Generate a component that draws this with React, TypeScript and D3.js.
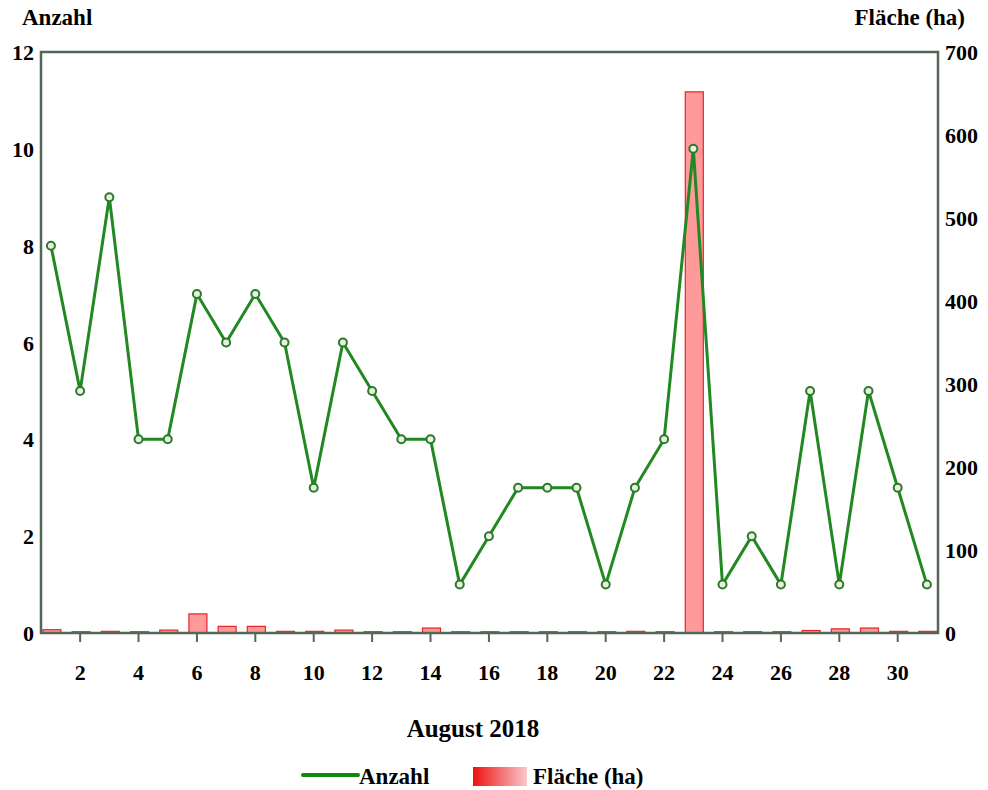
import React from 'react';
import * as d3 from 'd3';

const days = d3.range(1, 32);
const anzahl = [8, 5, 9, 4, 4, 7, 6, 7, 6, 3, 6, 5, 4, 4, 1, 2, 3, 3, 3, 1, 3, 4, 10, 1, 2, 1, 5, 1, 5, 3, 1];
const flaeche = [4, 1.5, 2, 1.5, 3.5, 23, 8, 8, 2, 2, 3.5, 1.5, 1.5, 6, 1.5, 1.5, 1.5, 1.5, 1.5, 1.5, 2, 1.5, 652, 1.5, 1.5, 1.5, 3, 5, 6, 2, 2];
const leftTicks = [0, 2, 4, 6, 8, 10, 12];
const rightTicks = [0, 100, 200, 300, 400, 500, 600, 700];
const xTicks = d3.range(2, 31, 2);

const W = 988, H = 790;
const L = 41, R = 938, T = 52, B = 633;
const font = '"Liberation Serif", "Times New Roman", serif';

export default function App() {
  const x = d3.scaleLinear().domain([0.66, 31.38]).range([L, R]);
  const yL = d3.scaleLinear().domain([0, 12]).range([B, T]);
  const yR = d3.scaleLinear().domain([0, 700]).range([B, T]);
  const line = d3.line<number>().x((_, i) => x(days[i])).y(d => yL(d));
  const bw = 18;

  return (
    <svg width={W} height={H} style={{ position: 'absolute', left: 0, top: 0, background: '#fff' }}
      fontFamily={font} fontWeight="bold">
      <defs>
        <linearGradient id="lg" x1="0" x2="1" y1="0" y2="0">
          <stop offset="0%" stopColor="#ee1111" />
          <stop offset="100%" stopColor="#f8c8cc" />
        </linearGradient>
      </defs>
      {/* bars */}
      {flaeche.map((v, i) => (
        <rect key={i} x={x(days[i]) - bw / 2 + 1} y={yR(v)} width={bw} height={B - yR(v)}
          fill="#f88" fillOpacity={0.85} stroke="#ee2222" strokeWidth={1.2} />
      ))}
      {/* frame */}
      <rect x={L} y={T} width={R - L} height={B - T} fill="none" stroke="#566656" strokeWidth={2.5} />
      {/* x ticks */}
      {xTicks.map(t => (
        <g key={t}>
          <line x1={x(t)} x2={x(t)} y1={B} y2={B + 9} stroke="#566656" strokeWidth={2} />
          <text x={x(t)} y={680} textAnchor="middle" fontSize={22}>{t}</text>
        </g>
      ))}
      {leftTicks.map(t => (
        <text key={t} x={34} y={yL(t) + 8} textAnchor="end" fontSize={22}>{t}</text>
      ))}
      {rightTicks.map(t => (
        <text key={t} x={945} y={yR(t) + 8} textAnchor="start" fontSize={22}>{t}</text>
      ))}
      {/* line */}
      <path d={line(anzahl) || ''} fill="none" stroke="#228822" strokeWidth={3} />
      {anzahl.map((v, i) => (
        <circle key={i} cx={x(days[i])} cy={yL(v)} r={4} fill="#e8f0e0" stroke="#2a7a2a" strokeWidth={2} />
      ))}
      <text x={22} y={25} fontSize={23}>Anzahl</text>
      <text x={965} y={25} textAnchor="end" fontSize={23}>Fläche (ha)</text>
      <text x={473} y={737} textAnchor="middle" fontSize={25}>August 2018</text>
      {/* legend */}
      <line x1={303} x2={358} y1={775} y2={775} stroke="#118811" strokeWidth={4} strokeLinecap="round" />
      <text x={359} y={784} fontSize={23}>Anzahl</text>
      <rect x={473} y={767} width={54} height={19} fill="url(#lg)" />
      <text x={533} y={784} fontSize={23}>Fläche (ha)</text>
    </svg>
  );
}
